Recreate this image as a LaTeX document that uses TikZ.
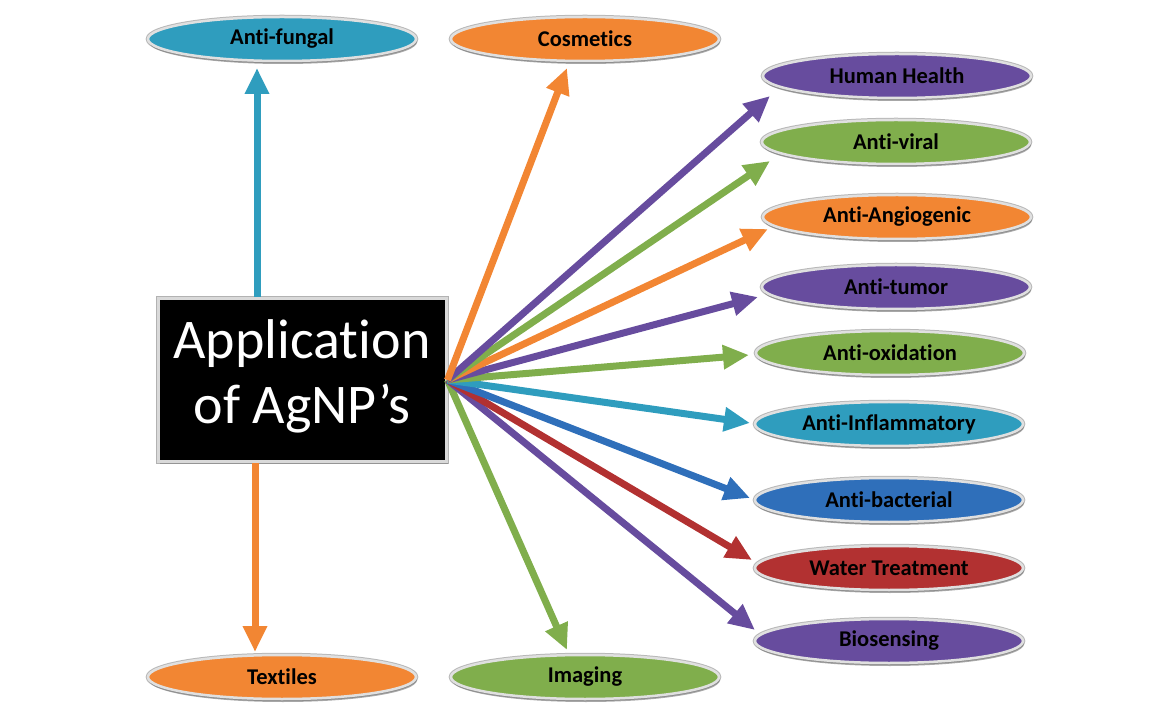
\documentclass[tikz,border=0pt]{standalone}
\usepackage{fontspec}
\setmainfont[Ligatures=NoCommon]{Carlito}
\usetikzlibrary{shapes.geometric,arrows.meta,shadows,calc}

\definecolor{cTeal}{HTML}{2F9DBE}
\definecolor{cOrange}{HTML}{F28633}
\definecolor{cPurple}{HTML}{674C9E}
\definecolor{cGreen}{HTML}{80AE4C}
\definecolor{cBlue}{HTML}{2F6FBA}
\definecolor{cRed}{HTML}{B23131}

\begin{document}
\begin{tikzpicture}[x=1pt,y=-1pt,
  app/.style={ellipse, minimum width=268pt, minimum height=44pt, inner sep=0pt,
    fill=#1, draw=white!88!black, line width=2.5pt,
    preaction={draw=black!28, line width=4.5pt},
    drop shadow={shadow xshift=1pt, shadow yshift=-3pt, fill=black!55, opacity=0.6},
    font=\fontsize{22.5}{26}\selectfont\bfseries, text=black},
  hubbox/.style={rectangle, minimum width=288pt, minimum height=163pt, inner sep=0pt,
    fill=black, draw=white!85!black, line width=3pt,
    preaction={draw=black!30, line width=5pt},
    drop shadow={shadow xshift=2pt, shadow yshift=-3pt, fill=black!50, opacity=0.6}},
  link/.style={draw=#1, line width=7pt, -{Triangle[length=26pt,width=23pt]}}
]
\useasboundingbox (0,0) rectangle (1165,708);

% central box and its title
\node[hubbox] (box) at (302,380) {};
\node[text=white, align=center, font=\fontsize{56}{65}\selectfont] (boxtext)
  at ([yshift=4pt]box.center) {Application\\of AgNP’s};

% application ellipses
\node[app=cTeal]   (af)  at (282,39)  {Anti-fungal};
\node[app=cOrange] (cos) at (585,39)  {Cosmetics};
\node[app=cPurple] (hh)  at (897,76)  {Human Health};
\node[app=cGreen]  (vir) at (896,142) {Anti-viral};
\node[app=cOrange] (ang) at (897,217) {Anti-Angiogenic};
\node[app=cPurple] (tum) at (896,287) {Anti-tumor};
\node[app=cGreen]  (oxi) at (890,353) {Anti-oxidation};
\node[app=cTeal]   (inf) at (889,424) {Anti-Inflammatory};
\node[app=cBlue]   (bac) at (889,500) {Anti-bacterial};
\node[app=cRed]    (wat) at (889,568) {Water Treatment};
\node[app=cPurple] (bio) at (889,641) {Biosensing};
\node[app=cOrange] (tex) at (282,677) {Textiles};
\node[app=cGreen]  (img) at (585,677) {Imaging};

% arrow tips on the ellipse rims
\coordinate (hub) at (box.east);
\coordinate (tAF)  at ([shift={(-25,29)}]af.center);
\coordinate (tTEX) at ([shift={(-27,-25)}]tex.center);
\coordinate (tCOS) at ([shift={(-18,29)}]cos.center);
\coordinate (tIMG) at ([shift={(-18,-27)}]img.center);
\coordinate (tHH)  at ([shift={(-127,20)}]hh.center);
\coordinate (tVIR) at ([shift={(-126,19)}]vir.center);
\coordinate (tANG) at ([shift={(-129,12)}]ang.center);
\coordinate (tTUM) at ([shift={(-138,10)}]tum.center);
\coordinate (tOXI) at ([shift={(-141,2)}]oxi.center);
\coordinate (tINF) at ([shift={(-139,-1)}]inf.center);
\coordinate (tBAC) at ([shift={(-139,-2)}]bac.center);
\coordinate (tWAT) at ([shift={(-137,-8)}]wat.center);
\coordinate (tBIO) at ([shift={(-134,-11)}]bio.center);

% connectors
\draw[link=cTeal]   (box.north -| tAF) -- (tAF);
\draw[link=cOrange] (box.south -| tTEX) -- (tTEX);
\draw[link=cGreen]  (hub) -- (tIMG);
\draw[link=cPurple] (hub) -- (tBIO);
\draw[link=cRed]    (hub) -- (tWAT);
\draw[link=cBlue]   (hub) -- (tBAC);
\draw[link=cTeal]   (hub) -- (tINF);
\draw[link=cGreen]  (hub) -- (tOXI);
\draw[link=cPurple] (hub) -- (tTUM);
\draw[link=cOrange] (hub) -- (tANG);
\draw[link=cGreen]  (hub) -- (tVIR);
\draw[link=cPurple] (hub) -- (tHH);
\draw[link=cOrange] (hub) -- (tCOS);
\end{tikzpicture}
\end{document}
